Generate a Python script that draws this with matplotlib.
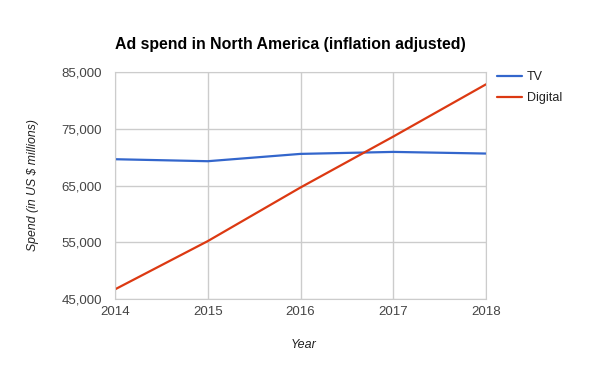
import matplotlib
matplotlib.use("Agg")
import matplotlib.pyplot as plt
from matplotlib.ticker import FuncFormatter

years = [2014, 2015, 2016, 2017, 2018]
tv = [69630, 69280, 70570, 70920, 70630]
digital = [46700, 55200, 64650, 73620, 82830]
y_ticks = [45000, 55000, 65000, 75000, 85000]

plt.rcParams['font.family'] = ['Liberation Sans', 'DejaVu Sans']

fig = plt.figure(figsize=(6, 3.71), dpi=100)
ax = fig.add_axes([115/600, 1-299/371, (486-115)/600, (299-72)/371])

ax.plot(years, tv, color='#3366cc', lw=1.6, label='TV', solid_capstyle='round')
ax.plot(years, digital, color='#dc3912', lw=1.6, label='Digital', solid_capstyle='round')

ax.set_xlim(2014, 2018)
ax.set_ylim(45000, 85000)
ax.set_xticks(years)
ax.set_yticks(y_ticks)
ax.yaxis.set_major_formatter(FuncFormatter(lambda v, p: f"{int(v):,}"))
ax.grid(True, color='#cccccc', lw=1)
ax.set_axisbelow(True)
for s in ax.spines.values():
    s.set_color('#cccccc')
ax.tick_params(length=0, labelsize=9.5, colors='#444444')
ax.tick_params(axis='y', pad=9.5)
ax.tick_params(axis='x', pad=5)

fig.text(304/600, 1-345/371, 'Year', fontstyle='italic', fontsize=9,
         color='#222222', ha='center', va='center')
fig.text(33/600, 1-185/371, 'Spend (in US $ millions)', fontstyle='italic', fontsize=8.8,
         color='#222222', ha='center', va='center', rotation=90)

fig.text(115/600, 1-45/371, 'Ad spend in North America (inflation adjusted)',
         fontsize=11.4, fontweight='bold', color='#000000', va='center', ha='left')

leg = fig.legend(loc='upper left', bbox_to_anchor=(497/600, 1-71/371),
                 bbox_transform=fig.transFigure, frameon=False,
                 fontsize=9, handlelength=2.0, handletextpad=0.4, labelspacing=0.75,
                 borderaxespad=0, borderpad=0)
for t in leg.get_texts():
    t.set_color('#222222')

fig.savefig('out.png', dpi=100)
